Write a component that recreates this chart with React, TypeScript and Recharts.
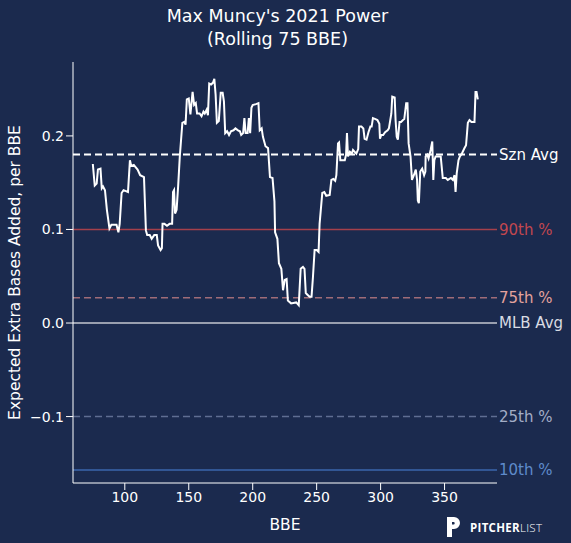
import { LineChart, Line, XAxis, YAxis, ReferenceLine } from 'recharts';

const BG = '#1b2a4e';
const FONT = '"DejaVu Sans", sans-serif';

const bbe = [
  75, 76.5, 78, 79, 81, 82, 83, 84.5, 86, 88, 89.5, 93.5, 95, 96, 97.5, 99, 102.5, 104, 105, 107,
  110, 112, 115, 116.5, 117.5, 119.5, 121, 123, 125, 126, 128, 129, 129.5, 131, 133, 135, 137, 137.7, 138.5, 139.3,
  140.5, 141.7, 143, 145, 146.5, 147.5, 148.5, 150, 151.3, 153, 154.2, 155.5, 156.5, 158.5, 160, 161.5, 162.5, 164, 165, 166,
  167.5, 169, 170, 171, 172, 173.5, 175, 176.5, 177.5, 178.5, 180, 181.5, 183, 185, 186.5, 188.5, 190, 191, 192.5, 193.5,
  194.5, 196, 197, 198, 199, 200, 202.5, 204.5, 205.5, 207, 208, 210, 212, 213.5, 215.5, 217, 217.5, 219.3, 220.5, 222.4,
  223.7, 225, 226.5, 227.5, 230, 234, 236, 237.5, 239.3, 240.5, 241.5, 243, 244.5, 246, 247.1, 248.4, 250, 251.5, 252.3, 254.4,
  256, 257.5, 260.2, 261.5, 263, 264.5, 265.4, 266.7, 267.5, 268.5, 270, 272, 273, 273.7, 274.5, 276, 277.5, 278.4, 281, 282.5,
  283.1, 285, 286.5, 287.5, 289, 290.5, 292, 293, 294, 296, 297.5, 299, 299.5, 300.5, 302, 303.5, 305.5, 306.5, 308.4, 309.1,
  311, 311.7, 312.6, 313.5, 314.8, 316, 317.5, 318.5, 320, 321, 321.9, 323.4, 324.5, 326, 327.5, 328.5, 329.1, 329.9, 331, 332.5,
  334, 335, 335.2, 336.5, 337.5, 339.1, 340.4, 341.2, 342, 343, 345.5, 347, 348.6, 351, 352.5, 355, 356.5, 357.8, 358.6, 359.5,
  360.9, 362, 363.5, 365.6, 366.8, 368.2, 369.5, 371, 373.4, 374.2, 375, 376,
];

const xeba = [
  0.170, 0.147, 0.149, 0.164, 0.165, 0.144, 0.146, 0.142, 0.121, 0.101, 0.105, 0.105, 0.097, 0.106, 0.139, 0.142, 0.140, 0.174, 0.168, 0.169,
  0.164, 0.158, 0.156, 0.099, 0.094, 0.094, 0.090, 0.094, 0.094, 0.083, 0.078, 0.080, 0.106, 0.106, 0.104, 0.106, 0.106, 0.140, 0.142, 0.117,
  0.121, 0.146, 0.178, 0.214, 0.215, 0.212, 0.239, 0.240, 0.223, 0.247, 0.233, 0.235, 0.224, 0.224, 0.221, 0.226, 0.224, 0.228, 0.222, 0.256,
  0.255, 0.257, 0.261, 0.244, 0.214, 0.216, 0.246, 0.246, 0.237, 0.203, 0.205, 0.201, 0.205, 0.206, 0.208, 0.206, 0.205, 0.201, 0.203, 0.219,
  0.203, 0.203, 0.219, 0.203, 0.230, 0.233, 0.234, 0.235, 0.206, 0.208, 0.199, 0.189, 0.187, 0.156, 0.155, 0.130, 0.097, 0.090, 0.064, 0.058,
  0.035, 0.046, 0.047, 0.024, 0.021, 0.022, 0.019, 0.058, 0.060, 0.058, 0.032, 0.030, 0.028, 0.028, 0.049, 0.078, 0.078, 0.076, 0.106, 0.139,
  0.140, 0.136, 0.137, 0.153, 0.154, 0.152, 0.158, 0.192, 0.193, 0.174, 0.174, 0.174, 0.180, 0.203, 0.178, 0.183, 0.181, 0.185, 0.181, 0.186,
  0.210, 0.210, 0.208, 0.197, 0.196, 0.204, 0.210, 0.210, 0.219, 0.218, 0.217, 0.213, 0.197, 0.201, 0.201, 0.204, 0.206, 0.208, 0.224, 0.242,
  0.241, 0.217, 0.199, 0.196, 0.215, 0.215, 0.217, 0.218, 0.235, 0.235, 0.192, 0.178, 0.153, 0.158, 0.164, 0.153, 0.131, 0.128, 0.162, 0.165,
  0.158, 0.162, 0.178, 0.180, 0.176, 0.185, 0.194, 0.153, 0.174, 0.178, 0.178, 0.178, 0.155, 0.155, 0.153, 0.155, 0.153, 0.158, 0.140, 0.160,
  0.174, 0.178, 0.181, 0.187, 0.190, 0.214, 0.217, 0.215, 0.215, 0.247, 0.247, 0.239,
];

const xTicks = [100, 150, 200, 250, 300, 350];
const yTicks = [-0.1, 0, 0.1, 0.2];

const refNames = ['Szn Avg', '90th %', '75th %', 'MLB Avg', '25th %', '10th %'];
const refValues = [0.18, 0.1, 0.027, 0, -0.1, -0.157];
const refLineColors = ['#ffffff', '#a5404b', '#a06c78', '#c4c7d0', '#5f6e92', '#3b66ac'];
const refTextColors = ['#ffffff', '#c2474f', '#e4a29c', '#d8dbe3', '#a3adc6', '#5f8bcb'];
const refDashes = ['7 4', undefined, '7 4', undefined, '7 4', undefined];

const data = bbe.map((x, i) => ({ x, y: xeba[i] }));

const fmtY = (v: number) => v.toFixed(1).replace('-', '\u2212');

export default function App() {
  return (
    <div style={{ position: 'absolute', left: 0, top: 0, width: 571, height: 543, background: BG, fontFamily: FONT }}>
      <div style={{ position: 'absolute', left: 0, top: 5, width: 555, textAlign: 'center', color: '#fff', fontSize: 17.5, lineHeight: '23px' }}>
        Max Muncy's 2021 Power
        <br />
        (Rolling 75 BBE)
      </div>
      <LineChart width={571} height={543} data={data} margin={{ top: 62, right: 74, left: 0, bottom: 0 }}>
        <XAxis
          dataKey="x"
          type="number"
          domain={[59.5, 391]}
          ticks={xTicks}
          allowDataOverflow
          height={60}
          stroke="#fff"
          tickSize={7}
          tick={{ fill: '#fff', fontSize: 14, fontFamily: FONT }}
          label={{ value: 'BBE', position: 'insideBottom', offset: 13, fill: '#fff', fontSize: 15.5, fontFamily: FONT }}
        />
        <YAxis
          type="number"
          domain={[-0.171, 0.279]}
          ticks={yTicks}
          allowDataOverflow
          width={73}
          stroke="#fff"
          tickSize={7}
          tickFormatter={fmtY}
          tick={{ fill: '#fff', fontSize: 14, fontFamily: FONT }}
          label={{
            value: 'Expected Extra Bases Added, per BBE',
            angle: -90,
            position: 'insideLeft',
            offset: 14,
            style: { textAnchor: 'middle' },
            fill: '#fff',
            fontSize: 15.5,
            fontFamily: FONT,
          }}
        />
        {refNames.map((name, i) => (
          <ReferenceLine
            key={name}
            y={refValues[i]}
            stroke={refLineColors[i]}
            strokeWidth={i === 0 ? 2 : 1.5}
            strokeDasharray={refDashes[i]}
            label={{ value: name, position: 'right', offset: 2, fill: refTextColors[i], fontSize: 15, fontFamily: FONT }}
          />
        ))}
        <Line type="linear" dataKey="y" stroke="#fff" strokeWidth={2} dot={false} isAnimationActive={false} />
      </LineChart>
      <div style={{ position: 'absolute', left: 446, top: 516, display: 'flex', alignItems: 'center' }}>
        <svg width={16} height={22} viewBox="0 0 16 22">
          <path d="M1 1 H8 A6 6 0 0 1 8 13 H6 V21 H1 Z" fill="#fff" />
          <path d="M6 6 H8 A1.5 1.5 0 0 1 8 8.5 H6 Z" fill={BG} />
        </svg>
        <span style={{ marginLeft: 8, color: '#fff', fontSize: 11.5, letterSpacing: 0.3, fontFamily: '"Open Sans", sans-serif' }}>
          <b>PITCHER</b>
          <span style={{ fontWeight: 300 }}>LIST</span>
        </span>
      </div>
    </div>
  );
}
